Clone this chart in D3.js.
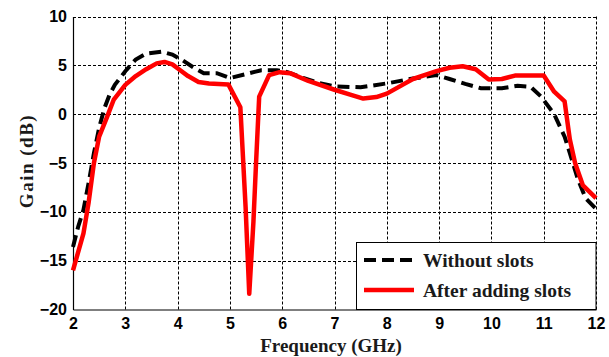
<!DOCTYPE html>
<html>
<head>
<meta charset="utf-8">
<script src="https://cdn.jsdelivr.net/npm/d3@7"></script>
<style>
  html, body { margin: 0; padding: 0; background: #fff; }
  svg { display: block; }
</style>
</head>
<body>
<svg id="chart" width="609" height="357"></svg>
<script>
// Gain vs frequency, antenna with and without slots
const xTicks = [2, 3, 4, 5, 6, 7, 8, 9, 10, 11, 12];
const yTicks = [-20, -15, -10, -5, 0, 5, 10];

const withoutSlots = [
  [2.0,-13.6],[2.1,-11.5],[2.2,-9.8],[2.3,-7.0],[2.4,-4.0],[2.5,-1.4],[2.6,0.6],
  [2.7,2.0],[2.8,3.0],[3.0,4.4],[3.2,5.6],[3.4,6.2],[3.7,6.4],[3.9,6.1],[4.1,5.5],
  [4.3,4.8],[4.5,4.2],[4.75,4.2],[5.0,3.7],[5.3,4.1],[5.6,4.5],[5.9,4.5],[6.1,4.3],
  [6.4,3.7],[6.7,3.2],[7.0,2.85],[7.5,2.75],[8.0,3.15],[8.5,3.65],[8.95,4.0],
  [9.2,3.6],[9.5,3.1],[9.8,2.65],[10.2,2.65],[10.5,2.9],[10.75,2.8],[10.95,1.8],
  [11.2,0.0],[11.4,-2.3],[11.5,-4.0],[11.65,-6.6],[11.8,-8.6],[12.0,-9.7]
];

const afterSlots = [
  [2.0,-16.0],[2.2,-12.2],[2.3,-9.0],[2.4,-5.0],[2.5,-2.3],[2.65,-0.3],[2.78,1.5],
  [3.0,3.0],[3.2,3.9],[3.4,4.6],[3.6,5.2],[3.75,5.35],[3.9,5.1],[4.05,4.5],[4.2,3.9],
  [4.4,3.3],[4.6,3.15],[4.97,3.05],[5.2,0.7],[5.3,-9.5],[5.37,-18.4],[5.45,-11],
  [5.5,-5.0],[5.56,1.8],[5.75,4.0],[5.95,4.3],[6.15,4.2],[6.5,3.4],[7.0,2.5],
  [7.3,2.0],[7.55,1.6],[7.8,1.75],[8.0,2.1],[8.3,3.0],[8.5,3.6],[8.95,4.4],
  [9.2,4.75],[9.45,4.9],[9.7,4.6],[9.95,3.55],[10.2,3.6],[10.45,3.95],[11.0,3.95],
  [11.2,2.3],[11.4,1.3],[11.5,-2.6],[11.6,-5.0],[11.75,-7.3],[12.0,-8.6]
];

const seriesNames = ["Without slots", "After adding slots"];

const plot = { left: 73, right: 596, top: 16.5, bottom: 309.5 };

const svg = d3.select("#chart");
const x = d3.scaleLinear().domain([2, 12]).range([plot.left, plot.right]);
const y = d3.scaleLinear().domain([-20, 10]).range([plot.bottom, plot.top]);

// dotted grid
const grid = svg.append("g").attr("stroke", "#000").attr("stroke-width", 1)
  .attr("stroke-dasharray", "3,2").attr("fill", "none");
grid.selectAll("line.v").data(xTicks.filter(d => d > 2)).join("line")
  .attr("x1", d => Math.round(x(d)) + 0.5).attr("x2", d => Math.round(x(d)) + 0.5)
  .attr("y1", plot.top).attr("y2", plot.bottom);
grid.selectAll("line.h").data(yTicks.filter(d => d > -20)).join("line")
  .attr("y1", d => Math.round(y(d)) + 0.5).attr("y2", d => Math.round(y(d)) + 0.5)
  .attr("x1", plot.left).attr("x2", plot.right);

// axes
const tickFont = "'Liberation Sans', Arial, sans-serif";
const xAxis = svg.append("g")
  .attr("transform", `translate(0,${plot.bottom})`)
  .call(d3.axisBottom(x).tickValues(xTicks).tickSize(0).tickPadding(8).tickFormat(d3.format("d")));
const yAxis = svg.append("g")
  .attr("transform", `translate(${plot.left},0)`)
  .call(d3.axisLeft(y).tickValues(yTicks).tickSize(0).tickPadding(6).tickFormat(d3.format("d")));
[xAxis, yAxis].forEach(a => {
  a.select(".domain").attr("stroke", "#000").attr("stroke-width", 1.2);
  a.selectAll("text").attr("font-family", tickFont).attr("font-weight", "bold")
    .attr("font-size", 16).attr("fill", "#000");
});

// curves
const line = d3.line().x(d => x(d[0])).y(d => y(d[1]));
svg.append("path").datum(withoutSlots)
  .attr("d", line).attr("fill", "none").attr("stroke", "#000")
  .attr("stroke-width", 4).attr("stroke-dasharray", "12,6");
svg.append("path").datum(afterSlots)
  .attr("d", line).attr("fill", "none").attr("stroke", "#ff0000")
  .attr("stroke-width", 4.5).attr("stroke-linejoin", "round");

// axis titles
const serif = "'Liberation Serif', 'Times New Roman', serif";
svg.append("text").text("Frequency (GHz)")
  .attr("x", 331).attr("y", 351.5).attr("text-anchor", "middle")
  .attr("font-family", serif).attr("font-weight", "bold").attr("font-size", 19).attr("fill", "#1a1a1a");
svg.append("text").text("Gain (dB)")
  .attr("transform", "translate(33,161) rotate(-90)").attr("text-anchor", "middle")
  .attr("font-family", serif).attr("font-weight", "bold").attr("font-size", 19)
  .attr("letter-spacing", 1.5).attr("fill", "#1a1a1a");

// legend
const lg = svg.append("g");
lg.append("rect").attr("x", 356.5).attr("y", 242.5).attr("width", 239.5).attr("height", 67)
  .attr("fill", "#fff").attr("stroke", "#000").attr("stroke-width", 1);
const legendRows = [
  { name: seriesNames[0], color: "#000", dash: "12,6", width: 4, y: 260 },
  { name: seriesNames[1], color: "#ff0000", dash: null, width: 4.5, y: 290 }
];
legendRows.forEach(r => {
  lg.append("line").attr("x1", 364).attr("x2", 414).attr("y1", r.y).attr("y2", r.y)
    .attr("stroke", r.color).attr("stroke-width", r.width).attr("stroke-dasharray", r.dash);
  lg.append("text").text(r.name).attr("x", 423).attr("y", r.y + 6.5)
    .attr("font-family", serif).attr("font-weight", "bold").attr("font-size", 19.5).attr("fill", "#1a1a1a");
});
</script>
</body>
</html>
